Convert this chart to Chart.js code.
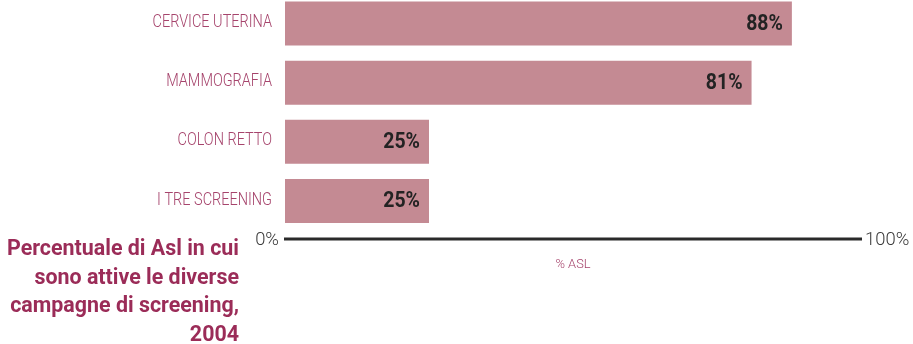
<!DOCTYPE html>
<html>
<head>
<meta charset="utf-8">
<script src="https://cdn.jsdelivr.net/npm/chart.js@4"></script>
<style>
  html, body { margin: 0; padding: 0; background: #fff; }
  #wrap { position: relative; width: 913px; height: 344px; overflow: hidden; }
  #wrap canvas { position: absolute; left: 0; top: -6px; }
  #caption {
    position: absolute; right: 674px; top: 233px; width: 400px;
    text-align: right; color: #9b2c58; white-space: nowrap;
    font: bold 22.5px/28.7px Roboto, sans-serif;
    transform-origin: right top;
  }
</style>
</head>
<body>
<div id="wrap">
  <canvas id="chart" width="913" height="350"></canvas>
  <div id="caption">Percentuale di Asl in cui<br>sono attive le diverse<br>campagne di screening,<br>2004</div>
</div>
<script>
// categorie e valori (% di Asl)
const categories = ['CERVICE UTERINA', 'MAMMOGRAFIA', 'COLON RETTO', 'I TRE SCREENING'];
const values = [88, 81, 25, 25];
const axisMin = 0;
const axisMax = 100;
const axisTitle = '% ASL';

const BAR_COLOR = '#c48a93';
const LABEL_COLOR = '#a6446c';
const FONT_LABEL = '300 18.7px Roboto, sans-serif';
const FONT_VALUE = 'bold 22px Roboto, sans-serif';
const FONT_TICK = '300 18.7px Roboto, sans-serif';

// font condensato: restringo in orizzontale il testo
const measure = (font, text) => {
  const c = document.createElement('canvas').getContext('2d');
  c.font = font;
  return c.measureText(text).width;
};
const SX_LABEL = 119.5 / measure(FONT_LABEL, 'CERVICE UTERINA');
const SX_VALUE = 36.7 / measure(FONT_VALUE, '88%');
const SX_TICK = 44.3 / measure(FONT_TICK, '100%');
const SX_CAPTION = 232 / measure('bold 22.5px Roboto, sans-serif', 'Percentuale di Asl in cui');
document.getElementById('caption').style.transform = 'scaleX(' + SX_CAPTION + ')';

function narrowText(ctx, text, x, y, sx) {
  ctx.save();
  ctx.translate(x, y);
  ctx.scale(sx, 1);
  ctx.fillText(text, 0, 0);
  ctx.restore();
}

// etichette, valori nelle barre e asse inferiore disegnati a mano
const decorations = {
  id: 'decorations',
  afterDatasetsDraw(chart) {
    const ctx = chart.ctx;
    const meta = chart.getDatasetMeta(0);
    const yScale = chart.scales.y;
    const x = chart.scales.x;
    const x0 = x.getPixelForValue(axisMin);
    const x1 = x.getPixelForValue(axisMax);

    ctx.save();
    ctx.textBaseline = 'middle';

    // categorie a sinistra delle barre
    ctx.font = FONT_LABEL;
    ctx.fillStyle = LABEL_COLOR;
    ctx.textAlign = 'right';
    chart.data.labels.forEach((lab, i) => {
      narrowText(ctx, lab, x0 - 13, yScale.getPixelForValue(i) - 1, SX_LABEL);
    });

    // valori dentro le barre
    ctx.font = FONT_VALUE;
    ctx.fillStyle = '#232323';
    meta.data.forEach((bar, i) => {
      narrowText(ctx, values[i] + '%', bar.x - 9, bar.y + 0.5, SX_VALUE);
    });

    // linea dell'asse
    const y = chart.chartArea.bottom + 8.5;
    ctx.strokeStyle = '#2a2a2a';
    ctx.lineWidth = 3;
    ctx.beginPath();
    ctx.moveTo(x0 - 1, y);
    ctx.lineTo(x1 + 1, y);
    ctx.stroke();

    ctx.font = FONT_TICK;
    ctx.fillStyle = '#3a3a3a';
    ctx.textAlign = 'right';
    narrowText(ctx, axisMin + '%', x0 - 6, y + 1.5, SX_TICK);
    ctx.textAlign = 'left';
    narrowText(ctx, axisMax + '%', x1 + 4, y + 1.5, SX_TICK);

    ctx.font = '300 13px Roboto, sans-serif';
    ctx.fillStyle = LABEL_COLOR;
    ctx.textAlign = 'center';
    narrowText(ctx, axisTitle, (x0 + x1) / 2, y + 26, SX_TICK);
    ctx.restore();
  }
};

new Chart(document.getElementById('chart'), {
  type: 'bar',
  data: {
    labels: categories,
    datasets: [{
      data: values,
      backgroundColor: BAR_COLOR,
      borderWidth: 0,
      barPercentage: 0.745,
      categoryPercentage: 1
    }]
  },
  options: {
    indexAxis: 'y',
    responsive: false,
    animation: false,
    layout: { padding: { left: 0, right: 52, top: 0, bottom: 113.5 } },
    plugins: {
      legend: { display: false },
      tooltip: { enabled: false },
      title: { display: false }
    },
    scales: {
      x: {
        display: false,
        min: axisMin,
        max: axisMax
      },
      y: {
        grid: { display: false, drawTicks: false },
        border: { display: false },
        ticks: { display: false },
        afterFit(scale) { scale.width = 285; }
      }
    }
  },
  plugins: [decorations]
});
</script>
</body>
</html>
